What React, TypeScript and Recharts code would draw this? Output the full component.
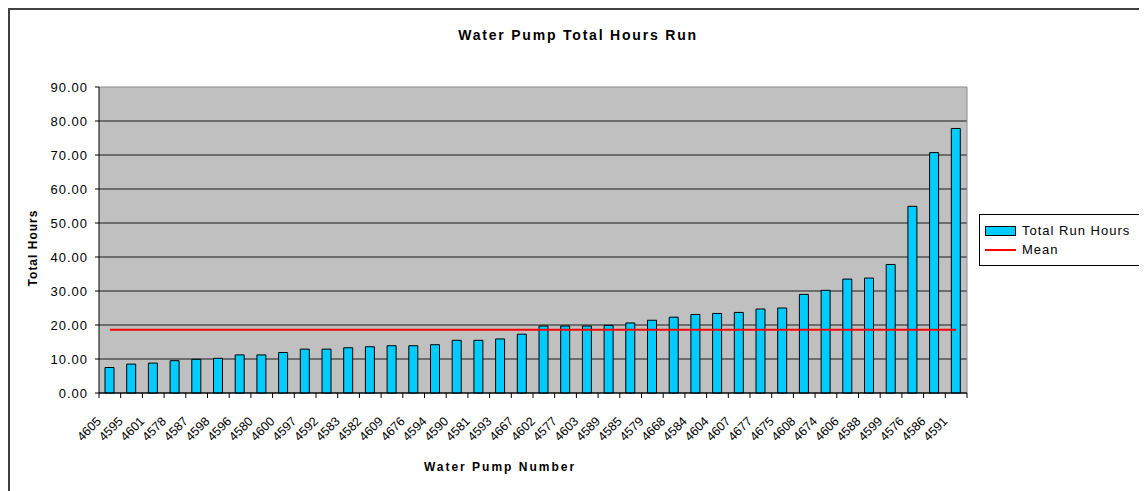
import { ComposedChart, Bar, Line, XAxis, YAxis, CartesianGrid, Legend } from 'recharts';

const PUMPS = [
  '4605', '4595', '4601', '4578', '4587', '4598', '4596', '4580', '4600', '4597',
  '4592', '4583', '4582', '4609', '4676', '4594', '4590', '4581', '4593', '4667',
  '4602', '4577', '4603', '4589', '4585', '4579', '4668', '4584', '4604', '4607',
  '4677', '4675', '4608', '4674', '4606', '4588', '4599', '4576', '4586', '4591',
];
const RUN_HOURS = [
  7.5, 8.5, 8.8, 9.5, 9.9, 10.2, 11.2, 11.2, 11.9, 12.9,
  12.9, 13.3, 13.6, 13.9, 13.9, 14.2, 15.5, 15.5, 15.9, 17.3,
  19.7, 19.7, 19.7, 19.9, 20.6, 21.4, 22.3, 23.1, 23.4, 23.7,
  24.7, 25.0, 29.0, 30.2, 33.5, 33.8, 37.8, 54.9, 70.7, 77.8,
];
const MEAN_HOURS = 18.6;
const Y_TICKS = [0, 10, 20, 30, 40, 50, 60, 70, 80, 90];
const LEGEND_ITEMS = [
  { label: 'Total Run Hours', kind: 'bar' },
  { label: 'Mean', kind: 'line' },
];

const FONT = '"Liberation Sans", Arial, sans-serif';
const CYAN = '#00CCFF';
const RED = '#FF0000';
const FRAME = '#8c8c8c';

const rows = PUMPS.map((pump, i) => ({ pump, hours: RUN_HOURS[i], mean: MEAN_HOURS }));

// Excel puts its category ticks between the bars, and the labels hang off at 45deg
function PumpTick(props: any) {
  const { x, y, payload, index } = props;
  const half = payload && payload.offset ? payload.offset : 868 / PUMPS.length / 2;
  const tx = x - 8;
  const ty = y + 29;
  return (
    <g>
      <line x1={x - half} x2={x - half} y1={y} y2={y + 5} stroke="#000" />
      {index === PUMPS.length - 1 && (
        <line x1={x + half} x2={x + half} y1={y} y2={y + 5} stroke="#000" />
      )}
      <text
        x={tx}
        y={ty}
        textAnchor="end"
        fontSize={12.5}
        fontFamily={FONT}
        fill="#000"
        transform={`rotate(-45 ${tx} ${ty})`}
      >
        {payload.value}
      </text>
    </g>
  );
}

// gridlines are dark, but the top edge of the plot is a grey frame line
function HLine(p: any) {
  const top = Math.abs(p.y1 - p.y) < 0.5;
  return <line x1={p.x1} x2={p.x2} y1={p.y1} y2={p.y2} stroke={top ? FRAME : '#1a1a1a'} strokeWidth={1} />;
}

function VLine(p: any) {
  return <line x1={p.x1} x2={p.x2} y1={p.y1} y2={p.y2} stroke={FRAME} strokeWidth={1} />;
}

function LegendBox() {
  return (
    <div
      style={{
        border: '1px solid #000',
        background: '#fff',
        padding: '6px 9px 6px 5px',
        fontFamily: FONT,
        fontSize: 13,
        letterSpacing: 1,
        color: '#000',
        whiteSpace: 'nowrap',
      }}
    >
      {LEGEND_ITEMS.map((it) => (
        <div key={it.label} style={{ display: 'flex', alignItems: 'center', height: 19 }}>
          {it.kind === 'bar' ? (
            <span style={{ width: 29, height: 8, background: CYAN, border: '1px solid #000', marginRight: 6 }} />
          ) : (
            <span style={{ width: 31, height: 0, borderTop: `2px solid ${RED}`, marginRight: 6 }} />
          )}
          <span>{it.label}</span>
        </div>
      ))}
    </div>
  );
}

export default function App() {
  return (
    <div
      style={{
        position: 'relative',
        width: 1139,
        height: 483,
        boxShadow: 'inset 2px 2px 0 #404040',
        fontFamily: FONT,
      }}
    >
      <div
        style={{
          position: 'absolute',
          left: 0,
          width: 1140,
          top: 19,
          textAlign: 'center',
          fontWeight: 'bold',
          fontSize: 14,
          letterSpacing: 1.8,
          lineHeight: '16px',
        }}
      >
        Water Pump Total Hours Run
      </div>
      <div
        style={{
          position: 'absolute',
          left: 25,
          top: 240,
          transform: 'translate(-50%, -50%) rotate(-90deg)',
          fontWeight: 'bold',
          fontSize: 12,
          letterSpacing: 1,
          whiteSpace: 'nowrap',
        }}
      >
        Total Hours
      </div>
      <div
        style={{
          position: 'absolute',
          left: 492,
          top: 459,
          transform: 'translate(-50%, -50%)',
          fontWeight: 'bold',
          fontSize: 12,
          letterSpacing: 2,
          whiteSpace: 'nowrap',
        }}
      >
        Water Pump Number
      </div>
      <ComposedChart
        width={1139}
        height={483}
        data={rows}
        margin={{ top: 79, right: 180, left: 0, bottom: 0 }}
        style={{ position: 'absolute', left: 0, top: 0 }}
      >
        <CartesianGrid
          fill="#C0C0C0"
          fillOpacity={1}
          horizontal={HLine}
          vertical={VLine}
          verticalCoordinatesGenerator={({ offset }: any) => [offset.left + offset.width]}
        />
        <XAxis
          dataKey="pump"
          interval={0}
          height={98}
          tickLine={false}
          tickSize={0}
          tickMargin={0}
          axisLine={{ stroke: '#000' }}
          tick={<PumpTick />}
        />
        <YAxis
          width={91}
          domain={[0, 90]}
          ticks={Y_TICKS}
          tickFormatter={(v: number) => v.toFixed(2)}
          tickSize={4}
          tickMargin={7}
          axisLine={{ stroke: '#000' }}
          tickLine={{ stroke: '#000' }}
          tick={{ fontSize: 13, fill: '#000', fontFamily: FONT, letterSpacing: 1 }}
        />
        <Legend
          layout="horizontal"
          verticalAlign="middle"
          align="center"
          content={<LegendBox />}
          wrapperStyle={{ left: 971, top: 206, width: 'auto', height: 'auto' }}
        />
        <Bar
          dataKey="hours"
          name="Total Run Hours"
          fill={CYAN}
          stroke="#000"
          strokeWidth={1}
          barSize={9}
          isAnimationActive={false}
        />
        <Line
          dataKey="mean"
          name="Mean"
          stroke={RED}
          strokeWidth={2}
          dot={false}
          activeDot={false}
          isAnimationActive={false}
        />
      </ComposedChart>
    </div>
  );
}
